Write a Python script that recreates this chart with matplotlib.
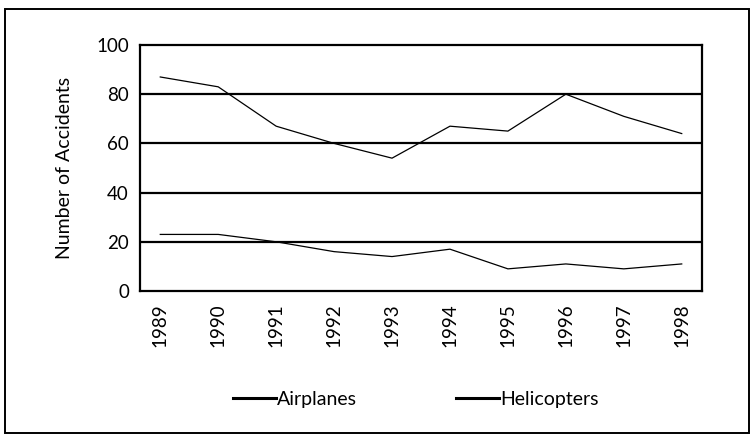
import matplotlib
matplotlib.use("Agg")
import matplotlib.pyplot as plt
from matplotlib.patches import Rectangle

plt.rcParams['font.family'] = ['Lato', 'DejaVu Sans']

years = ['1989', '1990', '1991', '1992', '1993', '1994', '1995', '1996', '1997', '1998']
airplanes = [87, 83, 67, 60, 54, 67, 65, 80, 71, 64]
helicopters = [23, 23, 20, 16, 14, 17, 9, 11, 9, 11]
yticks = [0, 20, 40, 60, 80, 100]

fig = plt.figure(figsize=(7.52, 4.36), dpi=100)
ax = fig.add_axes([140/752, 1 - 291/436, 562/752, 246/436])

x = list(range(len(years)))
ax.plot(x, airplanes, color='black', lw=0.9, label='Airplanes')
ax.plot(x, helicopters, color='black', lw=0.9, label='Helicopters')

# horizontal grid lines
for v in yticks[1:-1]:
    ax.axhline(v, color='black', lw=1.6, zorder=1)

ax.set_xlim(-0.35, 9.35)
ax.set_ylim(0, 100)
ax.set_yticks(yticks)
ax.set_xticks(x)
ax.set_xticklabels(years, rotation=90)
ax.tick_params(axis='both', length=0, labelsize=13.5, colors='black')
ax.tick_params(axis='x', pad=9)
ax.tick_params(axis='y', pad=8)
for s in ax.spines.values():
    s.set_linewidth(1.6)
    s.set_color('black')

ax.set_ylabel('Number of Accidents', fontsize=14)
ax.yaxis.set_label_coords(-0.119, 0.5)

# legend below the chart
handles, labels = ax.get_legend_handles_labels()
leg = fig.legend(handles, labels, loc='center', bbox_to_anchor=(416/752, 1 - 399/436),
                 ncol=2, frameon=False, fontsize=14, handlelength=2.2,
                 handletextpad=0.08, columnspacing=5.1)
for h in leg.get_lines():
    h.set_linewidth(2.2)

# outer frame of the scanned figure
fig.patches.append(Rectangle((5/752, 3/436), 744/752, 424/436, transform=fig.transFigure,
                             fill=False, edgecolor='black', lw=1.4))

fig.savefig('out.png', dpi=100)
